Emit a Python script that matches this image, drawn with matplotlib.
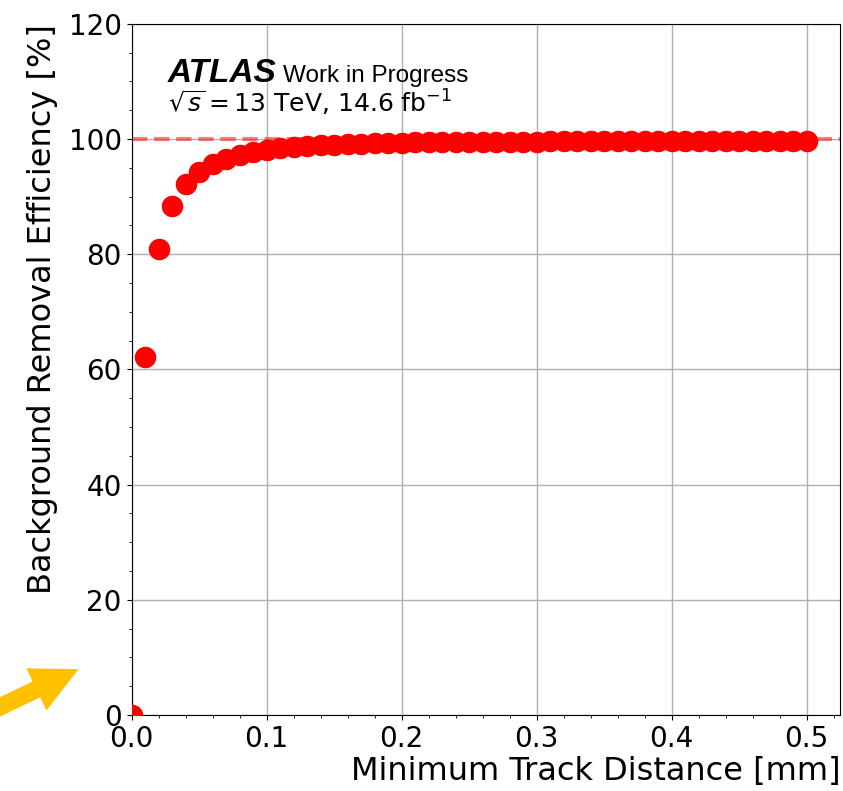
import numpy as np
import matplotlib.pyplot as plt

# track distance cut [mm] and background removal efficiency [%]
distance = [0.00, 0.01, 0.02, 0.03, 0.04, 0.05, 0.06, 0.07, 0.08, 0.09,
            0.10, 0.11, 0.12, 0.13, 0.14, 0.15, 0.16, 0.17, 0.18, 0.19,
            0.20, 0.21, 0.22, 0.23, 0.24, 0.25, 0.26, 0.27, 0.28, 0.29,
            0.30, 0.31, 0.32, 0.33, 0.34, 0.35, 0.36, 0.37, 0.38, 0.39,
            0.40, 0.41, 0.42, 0.43, 0.44, 0.45, 0.46, 0.47, 0.48, 0.49, 0.50]
efficiency = [0.0, 62.1, 80.9, 88.3, 92.1, 94.3, 95.7, 96.6, 97.2, 97.7,
              98.1, 98.4, 98.6, 98.8, 98.9, 99.0, 99.1, 99.2, 99.25, 99.3,
              99.35, 99.4, 99.4, 99.45, 99.45, 99.5, 99.5, 99.5, 99.55, 99.55,
              99.55, 99.6, 99.6, 99.6, 99.6, 99.6, 99.65, 99.65, 99.65, 99.65,
              99.65, 99.7, 99.7, 99.7, 99.7, 99.7, 99.7, 99.7, 99.7, 99.7, 99.7]

fig = plt.figure(figsize=(8.43, 7.91), dpi=100)
ax = fig.add_axes([0.156, 0.096, 0.841, 0.874])

ax.scatter(distance, efficiency, s=210, color='red', zorder=3)
ax.axhline(100, color='red', ls='--', lw=3, alpha=0.5, zorder=2)

ax.set_xlim(0, 0.525)
ax.set_ylim(0, 120)
ax.minorticks_on()
ax.grid(True, which='major', color='#b0b0b0', lw=1)
ax.set_axisbelow(True)
ax.tick_params(labelsize=20)

ax.set_xlabel('Minimum Track Distance [mm]', fontsize=23, loc='right', labelpad=2)
ax.set_ylabel('Background Removal Efficiency [%]', fontsize=23, loc='top', labelpad=8)

# ATLAS label
ax.text(0.051, 0.916, 'ATLAS', transform=ax.transAxes, fontsize=24,
        fontweight='bold', fontstyle='italic', family='Liberation Sans')
ax.text(0.214, 0.916, 'Work in Progress', transform=ax.transAxes,
        fontsize=17.5, family='Liberation Sans')
ax.text(0.051, 0.871, r'$\sqrt{s} = 13$ TeV, 14.6 fb$^{-1}$',
        transform=ax.transAxes, fontsize=18)

# yellow arrow pointing at the origin
ax.annotate('', xy=(81, 791 - 668), xytext=(-15, 791 - 714),
            xycoords='figure pixels', textcoords='figure pixels',
            annotation_clip=False,
            arrowprops=dict(arrowstyle='simple,head_width=0.8,head_length=0.8,tail_width=0.3',
                            mutation_scale=42, color='#FFC000', lw=0))

fig.savefig('out.png', dpi=100)
